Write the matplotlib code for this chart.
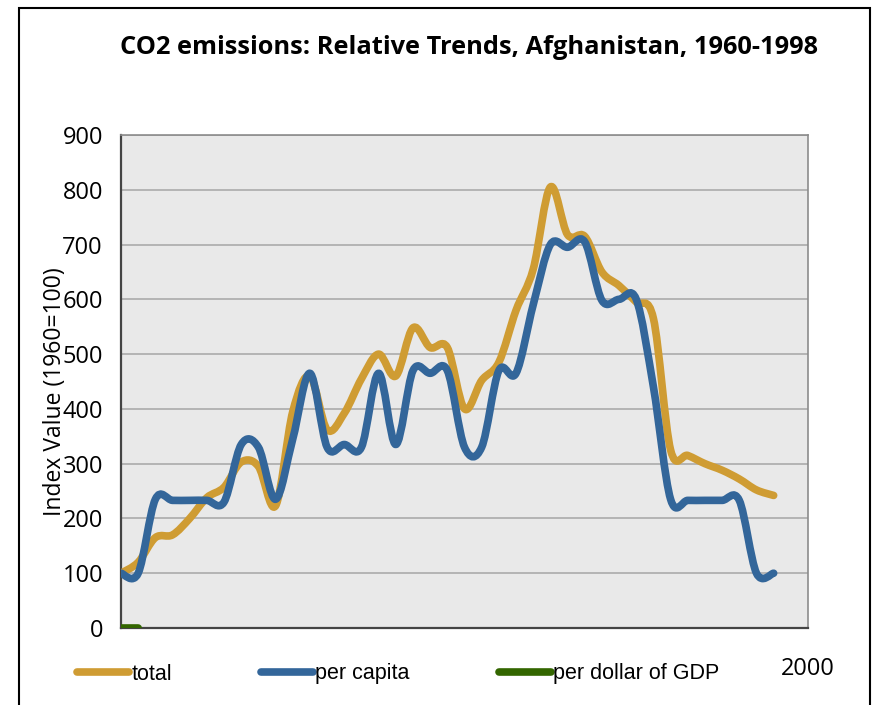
import numpy as np
import matplotlib
matplotlib.use('Agg')
import matplotlib.pyplot as plt
from matplotlib.path import Path
from matplotlib.patches import PathPatch, Rectangle
from matplotlib.lines import Line2D

# data (index, 1960 = 100)
years = list(range(1960, 1999))
total = [100, 120, 165, 170, 200, 238, 257, 303, 295, 223,
         395, 460, 362, 392, 455, 500, 460, 548, 512, 512,
         400, 452, 485, 580, 655, 805, 718, 715, 650, 625,
         595, 565, 325, 315, 300, 288, 272, 252, 242]
per_capita = [100, 100, 235, 233, 233, 233, 230, 335, 330, 235,
              345, 465, 330, 335, 330, 465, 335, 470, 465, 470,
              330, 330, 470, 465, 590, 700, 695, 705, 598, 600,
              600, 440, 235, 233, 233, 233, 233, 100, 100]
gdp_years = [1960, 1961]
per_gdp = [0, 0]

series_labels = ['total', 'per capita', 'per dollar of GDP']
colors = ['#CF9C33', '#33669A', '#336600']
y_ticks = [0, 100, 200, 300, 400, 500, 600, 700, 800, 900]


def smooth_path(x, y):
    """Excel-style smoothed line as a chain of cubic Bezier segments"""
    pts = np.column_stack([x, y]).astype(float)
    n = len(pts)
    verts = [pts[0]]
    codes = [Path.MOVETO]
    for i in range(n - 1):
        p0 = pts[i - 1] if i > 0 else pts[i]
        p1 = pts[i]
        p2 = pts[i + 1]
        p3 = pts[i + 2] if i + 2 < n else pts[i + 1]
        verts += [p1 + (p2 - p0) / 6, p2 - (p3 - p1) / 6, p2]
        codes += [Path.CURVE4] * 3
    return Path(verts, codes)


W, H = 878, 705
fig = plt.figure(figsize=(W / 100, H / 100), dpi=100)
ax = fig.add_axes([121 / W, 1 - 628 / H, (808 - 121) / W, (628 - 135) / H])
ax.set_facecolor('#E9E9E9')

lw = 5.5
for xs, ys, c in [(years, total, colors[0]),
                  (years, per_capita, colors[1]),
                  (gdp_years, per_gdp, colors[2])]:
    ax.add_patch(PathPatch(smooth_path(xs, ys), fill=False, edgecolor=c,
                           lw=lw, capstyle='round', joinstyle='round', zorder=3))

ax.set_xlim(1960, 2000)
ax.set_ylim(0, 900)
ax.set_yticks(y_ticks)
ax.set_yticklabels([str(v) for v in y_ticks], family='Open Sans', fontsize=17)
ax.set_xticks([2000])
ax.set_xticklabels(['2000'], family='Open Sans', fontsize=17)
ax.tick_params(axis='y', length=0, pad=13)
ax.tick_params(axis='x', length=0, pad=21)
ax.grid(axis='y', color='#A6A6A6', lw=1.1)
ax.set_axisbelow(True)

for side in ['left', 'bottom']:
    ax.spines[side].set_color('#444444')
    ax.spines[side].set_linewidth(1.6)
for side in ['top', 'right']:
    ax.spines[side].set_color('#8C8C8C')
    ax.spines[side].set_linewidth(1.2)

ax.set_ylabel('Index Value (1960=100)', family='Open Sans', fontsize=16.5, va='center')
ax.yaxis.set_label_coords((55 - 121) / (808 - 121), (628 - 392) / (628 - 135))

fig.text(469 / W, 1 - 47 / H, 'CO2 emissions: Relative Trends, Afghanistan, 1960-1998',
         ha='center', va='center', family='Open Sans', fontweight='bold', fontsize=18.3)

handles = [Line2D([], [], color=c, lw=lw, solid_capstyle='round') for c in colors]
fig.legend(handles, series_labels, loc='center left',
           bbox_to_anchor=(77 / W, 1 - 674 / H), ncol=3, frameon=False,
           prop={'family': 'Liberation Sans', 'size': 15.5},
           handlelength=2.42, handletextpad=0.1, columnspacing=4.15,
           borderpad=0, borderaxespad=0)

# outer chart border (runs off the bottom of the image)
fig.patches.append(Rectangle((19 / W, -0.05), (870 - 19) / W, 1 - 8 / H + 0.05,
                             transform=fig.transFigure, fill=False,
                             edgecolor='black', lw=1.5))

fig.savefig('out.png', dpi=100)
